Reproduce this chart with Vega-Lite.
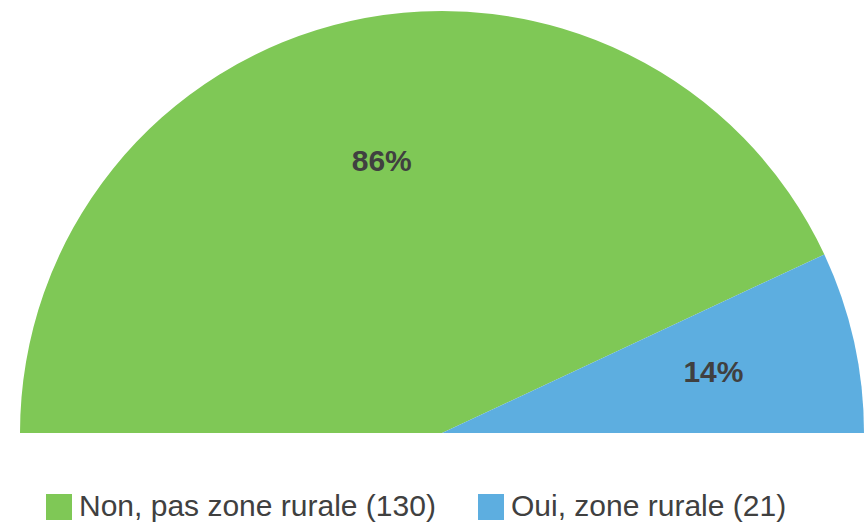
{
  "$schema": "https://vega.github.io/schema/vega-lite/v6.json",
  "width": 844,
  "height": 844,
  "autosize": {"type": "none"},
  "padding": {"left": 20, "top": 11, "right": 1, "bottom": 0},
  "background": "white",
  "config": {"view": {"stroke": null}},
  "data": {
    "values": [
      {"cat": "Non, pas zone rurale (130)", "n": 130, "pct": "86%", "o": 1},
      {"cat": "Oui, zone rurale (21)", "n": 21, "pct": "14%", "o": 2}
    ]
  },
  "encoding": {
    "theta": {"field": "n", "type": "quantitative", "stack": true, "scale": {"range": [-1.5707963, 1.5707963]}},
    "order": {"field": "o", "type": "quantitative"}
  },
  "layer": [
    {
      "mark": {"type": "arc", "radius": 422},
      "encoding": {
        "color": {
          "field": "cat",
          "type": "nominal",
          "sort": ["Non, pas zone rurale (130)", "Oui, zone rurale (21)"],
          "scale": {"domain": ["Non, pas zone rurale (130)", "Oui, zone rurale (21)"], "range": ["#7FC856", "#5DAEE0"]},
          "legend": {
            "orient": "none",
            "legendX": 24,
            "legendY": 481,
            "direction": "horizontal",
            "title": null,
            "symbolType": "square",
            "symbolSize": 676,
            "symbolStrokeWidth": 0,
            "labelFontSize": 30,
            "labelFont": "Liberation Sans",
            "labelColor": "#404040",
            "columnPadding": 40,
            "labelOffset": 5,
            "labelLimit": 0
          }
        }
      }
    },
    {
      "mark": {"type": "text", "radius": 278, "font": "Liberation Sans", "fontSize": 30, "fontWeight": "bold", "fill": "#404040", "baseline": "middle", "align": "center"},
      "encoding": {
        "detail": {"field": "cat"},
        "text": {"field": "pct"}
      }
    }
  ]
}
